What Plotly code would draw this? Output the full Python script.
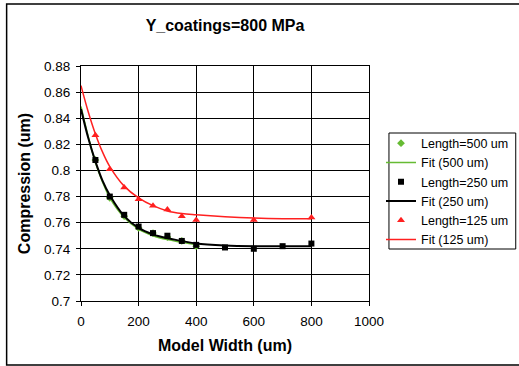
import plotly.graph_objects as go

# Data
x500 = [50, 100, 150, 200, 250, 300, 350, 400]
y500 = [0.808, 0.779, 0.765, 0.756, 0.752, 0.749, 0.746, 0.742]
fitx500 = [0, 25, 50, 75, 100, 150, 200, 250, 300, 350, 400]
fity500 = [0.849, 0.826, 0.806, 0.791, 0.779, 0.764, 0.755, 0.750, 0.747, 0.745, 0.743]

x250 = [50, 100, 150, 200, 250, 300, 350, 400, 500, 600, 700, 800]
y250 = [0.808, 0.780, 0.766, 0.757, 0.752, 0.750, 0.746, 0.743, 0.741, 0.740, 0.742, 0.744]
fitx250 = [0, 25, 50, 75, 100, 150, 200, 250, 300, 350, 400, 500, 600, 700, 800]
fity250 = [0.847, 0.825, 0.807, 0.792, 0.781, 0.765, 0.756, 0.751, 0.748, 0.746, 0.744, 0.7425, 0.742, 0.742, 0.742]

x125 = [50, 100, 150, 200, 250, 300, 350, 400, 600, 800]
y125 = [0.827, 0.801, 0.787, 0.778, 0.773, 0.770, 0.765, 0.762, 0.762, 0.764]
fitx125 = [0, 25, 50, 75, 100, 150, 200, 250, 300, 350, 400, 500, 600, 700, 800]
fity125 = [0.865, 0.845, 0.828, 0.814, 0.803, 0.788, 0.779, 0.773, 0.769, 0.767, 0.766, 0.7645, 0.7635, 0.763, 0.763]

xticks = [0, 200, 400, 600, 800, 1000]
yticks = [0.7, 0.72, 0.74, 0.76, 0.78, 0.8, 0.82, 0.84, 0.86, 0.88]
yticklabels = ["0.7", "0.72", "0.74", "0.76", "0.78", "0.8", "0.82", "0.84", "0.86", "0.88"]

title = "Y_coatings=800 MPa"
xtitle = "Model Width (um)"
ytitle = "Compression (um)"

GREEN = "#66bb33"
RED = "#ff2020"
FONT = "Liberation Sans, Arial, sans-serif"

fig = go.Figure()
fig.add_trace(go.Scatter(x=x500, y=y500, mode="markers", name="Length=500 um",
                         marker=dict(symbol="diamond", size=6, color=GREEN)))
fig.add_trace(go.Scatter(x=fitx500, y=fity500, mode="lines", name="Fit (500 um)",
                         line=dict(color=GREEN, width=1.5, shape="spline")))
fig.add_trace(go.Scatter(x=x250, y=y250, mode="markers", name="Length=250 um",
                         marker=dict(symbol="square", size=6, color="black")))
fig.add_trace(go.Scatter(x=fitx250, y=fity250, mode="lines", name="Fit (250 um)",
                         line=dict(color="black", width=2, shape="spline")))
fig.add_trace(go.Scatter(x=x125, y=y125, mode="markers", name="Length=125 um",
                         marker=dict(symbol="triangle-up", size=7, color=RED)))
fig.add_trace(go.Scatter(x=fitx125, y=fity125, mode="lines", name="Fit (125 um)",
                         line=dict(color=RED, width=1.5, shape="spline")))

L, R, T, B = 80.5, 369, 66, 301
W, H = 519, 366

def px(xp):
    return (xp - L) / (R - L)

def py(yp):
    return (B - yp) / (B - T)

fig.update_layout(
    width=W, height=H,
    margin=dict(l=L, r=W - R, t=T, b=H - B, pad=0, autoexpand=False),
    paper_bgcolor="white", plot_bgcolor="white",
    font=dict(family=FONT, size=13, color="black"),
    title=dict(text="<b>" + title + "</b>", x=225 / W, xref="container", xanchor="center",
               y=1 - 25 / H, yref="container", yanchor="middle", font=dict(size=16, family=FONT)),
    showlegend=True,
    legend=dict(x=381 / W, y=1 - 128.5 / H, xref="container", yref="container",
                xanchor="left", yanchor="top",
                borderwidth=0, bgcolor="rgba(0,0,0,0)",
                font=dict(size=12.5, family=FONT), tracegroupgap=0),
    xaxis=dict(range=[0, 1000], tickvals=xticks,
               showgrid=True, gridcolor="black", gridwidth=1,
               showline=True, linecolor="black", linewidth=1, mirror=True,
               ticks="outside", ticklen=4, tickcolor="black", zeroline=False,
               ticklabelstandoff=4, tickfont=dict(size=13.5),
               title=dict(text="<b>" + xtitle + "</b>", font=dict(size=16), standoff=11)),
    yaxis=dict(range=[0.7, 0.88], tickvals=yticks, ticktext=yticklabels,
               showgrid=True, gridcolor="black", gridwidth=1,
               showline=True, linecolor="black", linewidth=1, mirror=True,
               ticks="outside", ticklen=4, tickcolor="black", zeroline=False,
               ticklabelstandoff=3, tickfont=dict(size=13.5),
               title=dict(text="<b>" + ytitle + "</b>", font=dict(size=16), standoff=9)),
    shapes=[dict(type="rect", xref="paper", yref="paper",
                 x0=px(6), x1=px(525), y0=py(365), y1=py(4),
                 line=dict(color="black", width=1.5), layer="below"),
            dict(type="rect", xref="paper", yref="paper",
                 x0=px(389), x1=px(516), y0=py(249), y1=py(133),
                 line=dict(color="black", width=1), fillcolor="white", layer="below")],
)

fig.write_html("out.html")
